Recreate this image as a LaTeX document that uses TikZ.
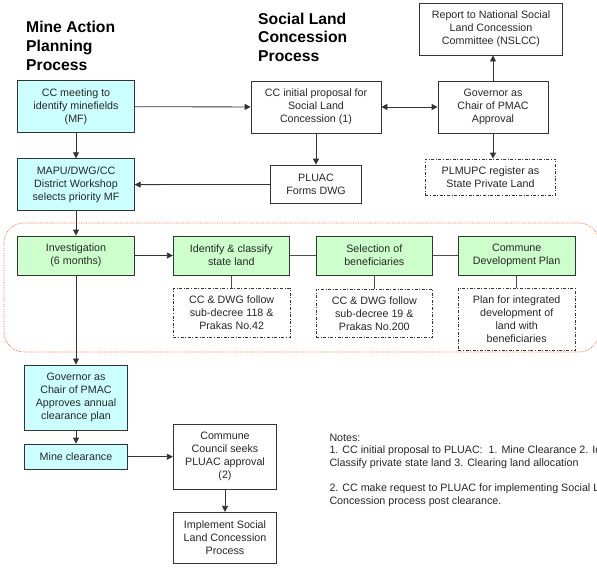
\documentclass[tikz,border=0pt]{standalone}
\usepackage{fontspec}
\setmainfont{Liberation Sans}
\usetikzlibrary{arrows.meta}
\definecolor{mapcyan}{HTML}{CCFFFF}
\definecolor{slcgreen}{HTML}{CCFFCC}
\definecolor{zonered}{HTML}{FF5533}
\tikzset{
  box/.style={draw=black!80, line width=0.8pt, align=center, inner sep=1pt,
    text=black!85, font=\fontsize{10.7}{13}\selectfont},
  mabox/.style={box, fill=mapcyan},
  slbox/.style={box, fill=slcgreen},
  notebox/.style={box, dash pattern=on 3pt off 1.6pt on 1pt off 1.6pt},
  flow/.style={-{Triangle[length=6pt,width=6pt]}, line width=0.8pt, black!80},
  link/.style={line width=0.8pt, black!70},
  heading/.style={anchor=north west, inner sep=0pt, align=left,
    font=\fontsize{15.7}{18.8}\selectfont\bfseries},
}
\begin{document}
\begin{tikzpicture}[x=1pt, y=-1pt]
        \useasboundingbox (0,0) rectangle (597,571);
        \clip (0,0) rectangle (597,571);

        % headings
        \node[heading] (mahead) at (26,21) {Mine Action\\Planning\\Process};
        \node[heading] (slhead) at (258,12.5) {Social Land\\Concession\\Process};

        % investigation zone
        \draw[zonered, densely dotted, line width=0.7pt, rounded corners=20pt]
            (4,223) rectangle (599,352);

        % mine action side
        \node[mabox, minimum width=116.6pt, minimum height=52pt] (meet) at (76,106.7)
            {CC meeting to\\identify minefields\\(MF)};
        \node[mabox, minimum width=116.6pt, minimum height=52pt] (mapu) at (76,184.7)
            {MAPU/DWG/CC\\District Workshop\\selects priority MF};

        % social land concession side
        \node[box, minimum width=130pt, minimum height=52pt] (prop) at (316,107)
            {CC initial proposal for\\Social Land\\Concession (1)};
        \node[box, minimum width=110pt, minimum height=52pt] (gov) at (493,107)
            {Governor as\\Chair of PMAC\\Approval};
        \node[box, minimum width=143.4pt, minimum height=51.7pt] (report) at (491,29.2)
            {Report to National Social\\Land Concession\\Committee (NSLCC)};
        \node[notebox, minimum width=130.4pt, minimum height=36pt] (plm) at (490.5,177)
            {PLMUPC register as\\State Private Land};
        \node[box, minimum width=90.3pt, minimum height=38.7pt] (pluac) at (316,184.4)
            {PLUAC\\Forms DWG};

        % green row
        \node[slbox, minimum width=116.6pt, minimum height=39pt] (inv) at (76,255.5)
            {Investigation\\(6 months)};
        \node[slbox, minimum width=116pt, minimum height=39pt] (ident) at (231.3,255.5)
            {Identify \& classify\\state land};
        \node[slbox, minimum width=116.7pt, minimum height=39pt] (sel) at (374.3,255.5)
            {Selection of\\beneficiaries};
        \node[slbox, minimum width=116.7pt, minimum height=39pt] (cdp) at (516.7,255.5)
            {Commune\\Development Plan};

        \node[notebox, minimum width=116.7pt, minimum height=49pt] (identnote) at (231.7,312.8)
            {CC \& DWG follow\\sub-decree 118 \&\\Prakas No.42};
        \node[notebox, minimum width=116.7pt, minimum height=48.3pt] (selnote) at (374.3,313.2)
            {CC \& DWG follow\\sub-decree 19 \&\\Prakas No.200};
        \node[notebox, minimum width=116.7pt, minimum height=61.7pt] (cdpnote) at (516.7,319.2)
            {Plan for integrated\\development of\\land with\\beneficiaries};

        % lower part
        \node[mabox, minimum width=103.4pt, minimum height=65.7pt] (govplan) at (76,397.8)
            {Governor as\\Chair of PMAC\\Approves annual\\clearance plan};
        \node[mabox, minimum width=103.4pt, minimum height=25.3pt] (clear) at (76,456.7)
            {Mine clearance};
        \node[box, minimum width=103.4pt, minimum height=65pt] (council) at (225,456.5)
            {Commune\\Council seeks\\PLUAC approval\\(2)};
        \node[box, minimum width=103.4pt, minimum height=51pt] (impl) at (225,537.8)
            {Implement Social\\Land Concession\\Process};

        \node[anchor=north west, inner sep=0pt, align=left, text=black!85,
            font=\fontsize{10.7}{12.7}\selectfont] (notes) at (329.3,433.5)
            {Notes:\\
             1. CC initial proposal to PLUAC:\ \ 1. Mine Clearance 2. Identify \&\\
             Classify private state land 3. Clearing land allocation\\[12.7pt]
             2. CC make request to PLUAC for implementing Social Land\\
             Concession process post clearance.};

        % connectors
        \draw[flow] (meet) -- (prop);
        \draw[flow, {Triangle[length=6pt,width=6pt]}-{Triangle[length=6pt,width=6pt]}] (prop) -- (gov);
        \draw[flow] (gov.north) -- (gov.north |- report.south);
        \draw[flow] (gov.south) -- (gov.south |- plm.north);
        \draw[flow] (prop) -- (pluac);
        \draw[flow] (pluac) -- (mapu);
        \draw[flow] (meet) -- (mapu);
        \draw[flow] (mapu) -- (inv);
        \draw[flow] (inv) -- (ident);
        \draw[link] (ident) -- (sel);
        \draw[link] (sel) -- (cdp);
        \draw[link] (ident) -- (identnote);
        \draw[link] (sel) -- (selnote);
        \draw[link] (cdp) -- (cdpnote);
        \draw[flow] (inv) -- (govplan);
        \draw[flow] (govplan) -- (clear);
        \draw[flow] (clear) -- (clear -| council.west);
        \draw[flow] (council) -- (impl);

    \end{tikzpicture}
\end{document}
